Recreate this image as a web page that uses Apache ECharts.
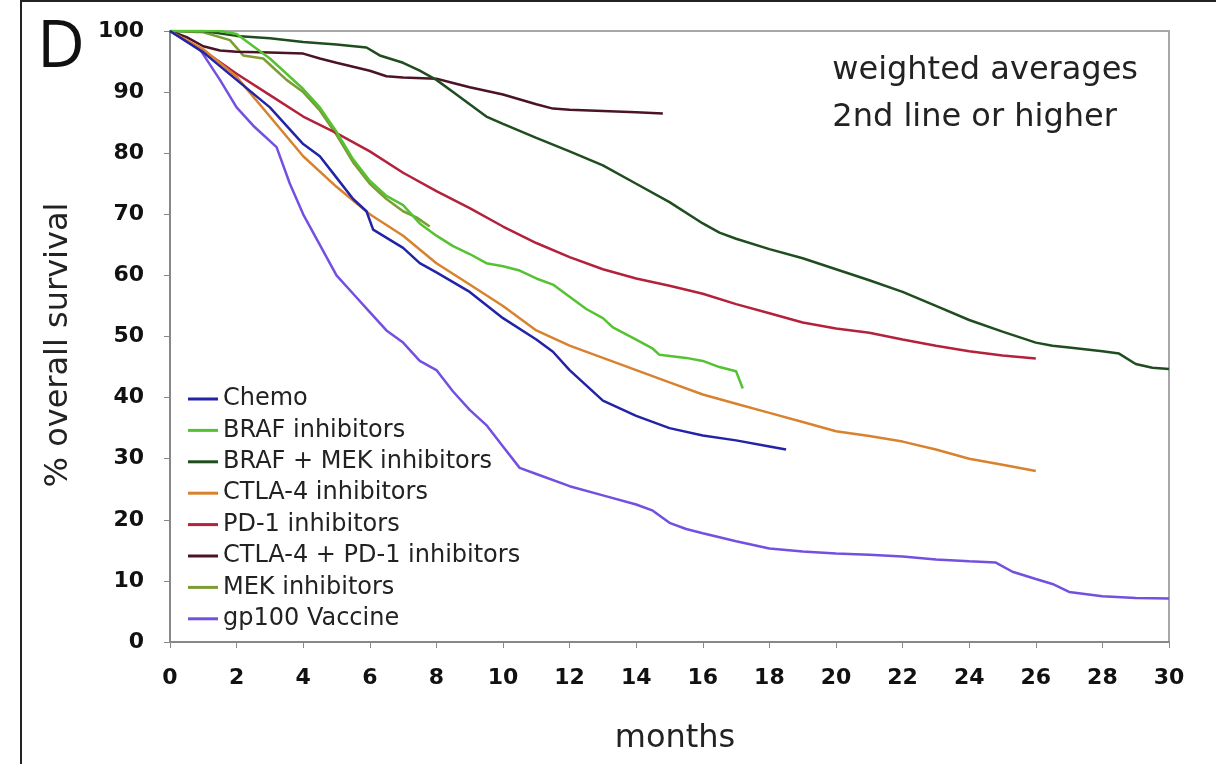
<!DOCTYPE html>
<html>
<head>
<meta charset="utf-8">
<script src="https://cdn.jsdelivr.net/npm/echarts@6/dist/echarts.min.js"></script>
<style>
  html, body { margin: 0; padding: 0; background: #fff; }
  #chart { width: 1216px; height: 764px; }
</style>
</head>
<body>
<div id="chart"></div>
<script>
// survival curves, [months, % overall survival]
var chemo = [[0,100],[1,96.5],[2,92],[3,87.5],[4,81.5],[4.5,79.5],[5,76],[5.5,72.5],[5.9,70.5],[6.1,67.5],[7,64.5],[7.5,62],[8,60.5],[9,57.3],[10,53],[11,49.5],[11.5,47.5],[12,44.5],[13,39.5],[14,37],[15,35],[16,33.8],[17,33],[18,32],[18.5,31.5]];
var braf = [[0,100],[1.5,100],[2,99.5],[2.5,97.5],[3,95.5],[3.5,93],[4,90.5],[4.5,87.5],[5,83.5],[5.5,79],[6,75.5],[6.5,73],[7,71.5],[7.5,68.5],[8,66.5],[8.5,64.8],[9,63.5],[9.5,62],[10,61.5],[10.5,60.8],[11,59.5],[11.5,58.5],[12,56.5],[12.5,54.5],[13,53],[13.3,51.5],[14,49.5],[14.5,48],[14.7,47],[15.5,46.5],[16,46],[16.5,45],[17,44.3],[17.2,41.5]];
var brafMek = [[0,100],[1,100],[2,99.2],[3,98.8],[4,98.2],[5,97.8],[5.9,97.3],[6.3,96],[7,94.8],[7.5,93.5],[8,92],[8.5,90],[9,88],[9.5,86],[10,84.8],[11,82.5],[12,80.3],[13,78],[14,75],[15,72],[16,68.5],[16.5,67],[17,66],[18,64.3],[19,62.8],[20,61],[21,59.2],[22,57.3],[23,55],[24,52.7],[25,50.8],[26,49],[26.5,48.5],[27,48.2],[28,47.6],[28.5,47.2],[29,45.5],[29.5,44.9],[30,44.7]];
var ctla4 = [[0,100],[1,97],[2,92.5],[3,86],[4,79.5],[5,74.5],[6,70],[7,66.5],[8,62],[9,58.5],[10,55],[11,51],[12,48.5],[13,46.5],[14,44.5],[15,42.5],[16,40.5],[17,39],[18,37.5],[19,36],[20,34.5],[21,33.7],[22,32.8],[23,31.5],[24,30],[25,29],[26,28]];
var pd1 = [[0,100],[1,96.8],[2,93],[3,89.5],[4,86],[5,83.3],[6,80.3],[7,76.8],[8,73.8],[9,71],[10,68],[11,65.3],[12,63],[13,61],[14,59.5],[15,58.3],[16,57],[17,55.3],[18,53.8],[19,52.3],[20,51.3],[21,50.6],[22,49.5],[23,48.5],[24,47.6],[25,46.9],[26,46.4]];
var ctla4Pd1 = [[0,100],[0.5,99],[1,97.5],[1.5,96.8],[2,96.6],[3,96.5],[4,96.3],[4.5,95.5],[5,94.8],[6,93.5],[6.5,92.6],[7,92.4],[8,92.2],[8.5,91.5],[9,90.8],[10,89.6],[11,88],[11.5,87.3],[12,87.1],[13,86.9],[14,86.7],[14.8,86.5]];
var mek = [[0,100],[1,99.8],[1.8,98.5],[2.2,96],[2.8,95.5],[3.2,93.5],[3.5,92],[4,90],[4.5,87],[5,83],[5.5,78.5],[6,75],[6.5,72.5],[7,70.5],[7.4,69.5],[7.8,68]];
var gp100 = [[0,100],[0.9,97],[1.5,92],[2,87.5],[2.5,84.5],[3.2,81],[3.6,75],[4,70],[4.5,65],[5,60],[5.5,57],[6,54],[6.5,51],[7,49],[7.5,46],[8,44.5],[8.5,41],[9,38],[9.5,35.5],[10,32],[10.5,28.5],[11,27.5],[12,25.5],[13,24],[14,22.5],[14.5,21.5],[15,19.5],[15.5,18.5],[16,17.8],[17,16.5],[18,15.3],[19,14.8],[20,14.5],[21,14.3],[22,14],[23,13.5],[24,13.2],[24.8,13],[25.3,11.5],[26,10.3],[26.5,9.5],[27,8.2],[28,7.5],[29,7.2],[30,7.1]];

var seriesNames = ["Chemo", "BRAF inhibitors", "BRAF + MEK inhibitors", "CTLA-4 inhibitors", "PD-1 inhibitors", "CTLA-4 + PD-1 inhibitors", "MEK inhibitors", "gp100 Vaccine"];
var seriesData = [chemo, braf, brafMek, ctla4, pd1, ctla4Pd1, mek, gp100];
var seriesColors = ["#2323a8", "#55c232", "#1f4d1f", "#d9822e", "#b3223a", "#4a1424", "#7d9c34", "#7350e0"];

var chart = echarts.init(document.getElementById("chart"));

var series = seriesNames.map(function(name, i) {
  return {
    name: name,
    type: "line",
    data: seriesData[i],
    symbol: "none",
    lineStyle: { width: 2.5, color: seriesColors[i] },
    itemStyle: { color: seriesColors[i] },
    z: 10 - i
  };
});

chart.setOption({
  animation: false,
  grid: {
    left: 170,
    right: 47,
    top: 31,
    bottom: 122,
    show: true,
    borderColor: "#a8a8a8",
    borderWidth: 2
  },
  legend: {
    orient: "vertical",
    left: 183,
    top: 382,
    icon: "rect",
    itemWidth: 30,
    itemHeight: 3,
    itemGap: 7.4,
    textStyle: { fontFamily: "DejaVu Sans", fontSize: 24, color: "#222" },
    data: seriesNames
  },
  xAxis: {
    type: "value",
    min: 0,
    max: 30,
    interval: 2,
    axisLine: { lineStyle: { color: "#888", width: 2 } },
    axisTick: { show: true, length: 6, lineStyle: { color: "#888" } },
    splitLine: { show: false },
    axisLabel: { fontFamily: "DejaVu Sans", fontWeight: "bold", fontSize: 22, color: "#111", margin: 25 }
  },
  yAxis: {
    type: "value",
    min: 0,
    max: 100,
    interval: 10,
    axisLine: { show: true, lineStyle: { color: "#888", width: 2 } },
    axisTick: { show: true, length: 6, lineStyle: { color: "#888" } },
    splitLine: { show: false },
    axisLabel: { fontFamily: "DejaVu Sans", fontWeight: "bold", fontSize: 22, color: "#111", margin: 26 }
  },
  graphic: [
    {
      type: "rect",
      shape: { x: 21, y: 1, width: 1300, height: 900 },
      style: { fill: "none", stroke: "#222", lineWidth: 2 },
      silent: true
    },
    {
      type: "text",
      left: 37,
      top: 15,
      style: { text: "D", font: "66px 'Open Sans'", fill: "#111" }
    },
    {
      type: "text",
      right: 78,
      top: 47,
      style: { text: "weighted averages\n2nd line or higher", font: "32px 'DejaVu Sans'", fill: "#222", align: "right", lineHeight: 47 }
    },
    {
      type: "text",
      x: 59,
      y: 345,
      rotation: Math.PI / 2,
      style: { text: "% overall survival", font: "32px 'DejaVu Sans'", fill: "#222", align: "center", verticalAlign: "middle" }
    },
    {
      type: "text",
      x: 675,
      y: 739,
      style: { text: "months", font: "32px 'DejaVu Sans'", fill: "#222", align: "center", verticalAlign: "middle" }
    }
  ],
  series: series
});
</script>
</body>
</html>
